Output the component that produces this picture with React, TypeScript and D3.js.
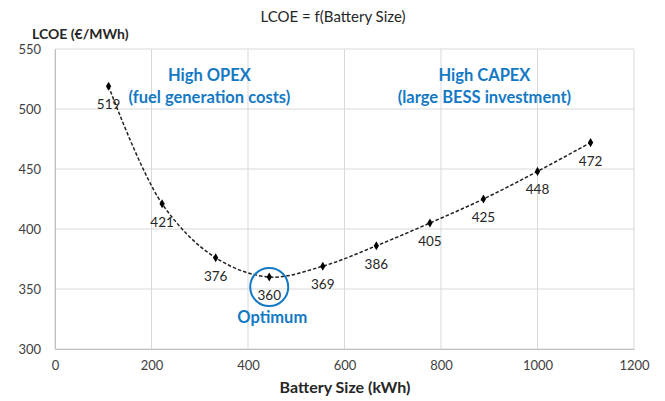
import React, { useEffect, useRef } from 'react'
import * as d3 from 'd3'

// battery sizes (kWh) and LCOE values (€/MWh)
const batterySizes = [111, 222, 333, 444, 555, 666, 777, 888, 1000, 1110]
const lcoeValues = [519, 421, 376, 360, 369, 386, 405, 425, 448, 472]
const xTicks = [0, 200, 400, 600, 800, 1000, 1200]
const yTicks = [300, 350, 400, 450, 500, 550]
const optimumIndex = 3

const width = 665
const height = 401
const FONT = 'Lato, "Open Sans", sans-serif'
const BLUE = '#1479c4'

export default function App() {
  const svgRef = useRef<SVGSVGElement>(null)

  useEffect(() => {
    if (!svgRef.current) return
    d3.select(svgRef.current).selectAll('*').remove()

    const margin = { top: 49, right: 31, bottom: 52, left: 55 }
    const innerWidth = width - margin.left - margin.right
    const innerHeight = height - margin.top - margin.bottom

    const root = d3.select(svgRef.current).attr('width', width).attr('height', height)
    root.append('rect').attr('width', width).attr('height', height).attr('fill', '#fff')

    const svg = root.append('g').attr('transform', `translate(${margin.left},${margin.top})`)

    const xScale = d3.scaleLinear().domain([0, 1200]).range([0, innerWidth])
    const yScale = d3.scaleLinear().domain([300, 550]).range([innerHeight, 0])

    // Gridlines
    svg
      .selectAll('.vgrid')
      .data(xTicks)
      .join('line')
      .attr('x1', (d) => xScale(d))
      .attr('x2', (d) => xScale(d))
      .attr('y1', 0)
      .attr('y2', innerHeight)
      .attr('stroke', '#d9d9d9')
      .attr('stroke-width', 1)
    svg
      .selectAll('.hgrid')
      .data(yTicks)
      .join('line')
      .attr('x1', 0)
      .attr('x2', innerWidth)
      .attr('y1', (d) => yScale(d))
      .attr('y2', (d) => yScale(d))
      .attr('stroke', '#d9d9d9')
      .attr('stroke-width', 1)

    // Axes (labels only, lines from grid)
    const xAxis = svg
      .append('g')
      .attr('transform', `translate(0,${innerHeight})`)
      .call(d3.axisBottom(xScale).tickValues(xTicks).tickSize(0).tickPadding(12).tickFormat(d3.format('d')))
    xAxis.select('.domain').attr('stroke', '#bfbfbf')
    xAxis.selectAll('text').attr('font-family', FONT).attr('font-size', 13).attr('fill', '#404040')

    const yAxis = svg
      .append('g')
      .call(d3.axisLeft(yScale).tickValues(yTicks).tickSize(0).tickPadding(14).tickFormat(d3.format('d')))
    yAxis.select('.domain').attr('stroke', '#bfbfbf')
    yAxis.selectAll('text').attr('font-family', FONT).attr('font-size', 13).attr('fill', '#404040')

    const data = batterySizes.map((x, i) => ({ x, y: lcoeValues[i] }))

    // Smoothed dashed line
    const line = d3
      .line<{ x: number; y: number }>()
      .x((d) => xScale(d.x))
      .y((d) => yScale(d.y))
      .curve(d3.curveCatmullRom.alpha(0.5))
    svg
      .append('path')
      .datum(data)
      .attr('d', line)
      .attr('fill', 'none')
      .attr('stroke', '#222')
      .attr('stroke-width', 1.5)
      .attr('stroke-dasharray', '3.5,2')

    // Diamond markers
    svg
      .selectAll('.marker')
      .data(data)
      .join('path')
      .attr('transform', (d) => `translate(${xScale(d.x)},${yScale(d.y)})`)
      .attr('d', d3.symbol().type(d3.symbolDiamond).size(24))
      .attr('fill', '#000')

    // Data labels below
    svg
      .selectAll('.dlabel')
      .data(data)
      .join('text')
      .attr('x', (d) => xScale(d.x))
      .attr('y', (d) => yScale(d.y) + 23)
      .attr('text-anchor', 'middle')
      .attr('font-family', FONT)
      .attr('font-size', 13.5)
      .attr('fill', '#262626')
      .text((d) => d.y)

    // Optimum circle
    const opt = data[optimumIndex]
    svg
      .append('circle')
      .attr('cx', xScale(opt.x))
      .attr('cy', yScale(opt.y) + 10)
      .attr('r', 19)
      .attr('fill', 'none')
      .attr('stroke', BLUE)
      .attr('stroke-width', 2)
    svg
      .append('text')
      .attr('x', xScale(opt.x) + 3)
      .attr('y', yScale(opt.y) + 46)
      .attr('text-anchor', 'middle')
      .attr('font-family', FONT)
      .attr('font-size', 16.5)
      .attr('font-weight', 'bold')
      .attr('fill', BLUE)
      .text('Optimum')

    // Region annotations
    const notes = [
      { x: 320, y: 505, lines: ['High OPEX', '(fuel generation costs)'] },
      { x: 890, y: 505, lines: ['High CAPEX', '(large BESS investment)'] },
    ]
    notes.forEach((n) => {
      n.lines.forEach((t, i) => {
        svg
          .append('text')
          .attr('x', xScale(n.x))
          .attr('y', yScale(n.y) - 22 + i * 22)
          .attr('text-anchor', 'middle')
          .attr('font-family', FONT)
          .attr('font-size', 16.5)
          .attr('font-weight', 'bold')
          .attr('fill', BLUE)
          .text(t)
      })
    })

    // Titles
    root
      .append('text')
      .attr('x', 333)
      .attr('y', 22)
      .attr('text-anchor', 'middle')
      .attr('font-family', FONT)
      .attr('font-size', 15)
      .attr('fill', '#262626')
      .text('LCOE = f(Battery Size)')
    root
      .append('text')
      .attr('x', 32)
      .attr('y', 39)
      .attr('font-family', FONT)
      .attr('font-size', 14)
      .attr('font-weight', 'bold')
      .attr('fill', '#262626')
      .text('LCOE (€/MWh)')
    root
      .append('text')
      .attr('x', 345)
      .attr('y', 393)
      .attr('text-anchor', 'middle')
      .attr('font-family', FONT)
      .attr('font-size', 16)
      .attr('font-weight', 'bold')
      .attr('fill', '#262626')
      .text('Battery Size (kWh)')
  }, [])

  return (
    <div style={{ position: 'absolute', left: 0, top: 0 }}>
      <svg ref={svgRef} style={{ display: 'block' }}></svg>
    </div>
  )
}
